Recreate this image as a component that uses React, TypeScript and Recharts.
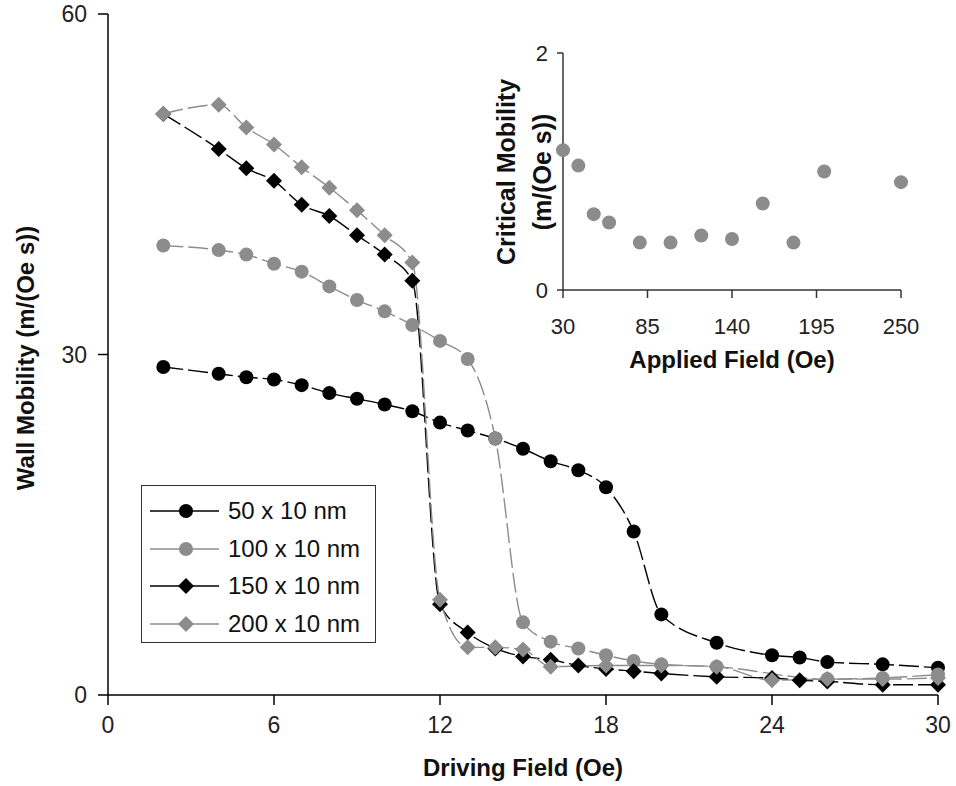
import React from 'react';
import { LineChart, Line, XAxis, YAxis, ScatterChart, Scatter } from 'recharts';

// main plot: driving field vs wall mobility
const drivingField = [2, 4, 5, 6, 7, 8, 9, 10, 11, 12, 13, 14, 15, 16, 17, 18, 19, 20, 22, 24, 25, 26, 28, 30];
const mob50 = [28.9, 28.3, 28.0, 27.8, 27.3, 26.6, 26.1, 25.6, 25.0, 24.0, 23.3, 22.6, 21.7, 20.6, 19.8, 18.3, 14.4, 7.1, 4.6, 3.5, 3.3, 2.9, 2.7, 2.4];
const mob100 = [39.6, 39.2, 38.8, 38.0, 37.3, 36.0, 34.8, 33.8, 32.6, 31.2, 29.6, 22.6, 6.4, 4.7, 4.1, 3.5, 3.0, 2.7, 2.5, null, null, 1.4, 1.5, 1.8];
const mob150 = [51.2, 48.1, 46.4, 45.3, 43.2, 42.2, 40.5, 38.8, 36.5, 8.0, 5.5, 4.1, 3.4, 3.1, 2.6, 2.3, 2.1, 1.9, 1.6, 1.5, 1.3, 1.2, 0.9, 0.9];
const mob200 = [51.2, 52.0, 50.0, 48.5, 46.5, 44.7, 42.7, 40.5, 38.1, 8.4, 4.2, 4.2, 4.0, 2.5, null, 2.6, null, 2.6, 2.5, 1.3, null, 1.4, 1.4, 1.5];
const xTicks = [0, 6, 12, 18, 24, 30];
const yTicks = [0, 30, 60];

// inset: applied field vs critical mobility
const appliedField = [30, 40, 50, 60, 80, 100, 120, 140, 160, 180, 200, 250];
const critMobility = [1.18, 1.05, 0.64, 0.57, 0.4, 0.4, 0.46, 0.43, 0.73, 0.4, 1.0, 0.91];
const insetXTicks = [30, 85, 140, 195, 250];
const insetYTicks = [0, 2];

const FONT = '"Liberation Sans", Arial, sans-serif';
const BLACK = '#000000';
const GRAY = '#8c8c8c';

const mainData = drivingField.map((x, i) => ({
    x,
    s50: mob50[i],
    s100: mob100[i],
    s150: mob150[i],
    s200: mob200[i],
}));

const insetData = appliedField.map((x, i) => ({ x, y: critMobility[i] }));

const series = [
    { key: 's50', name: '50 x 10 nm', color: BLACK, shape: 'circle' },
    { key: 's100', name: '100 x 10 nm', color: GRAY, shape: 'circle' },
    { key: 's150', name: '150 x 10 nm', color: BLACK, shape: 'diamond' },
    { key: 's200', name: '200 x 10 nm', color: GRAY, shape: 'diamond' },
];

const Marker = ({ cx, cy, color, shape }: any) => {
    if (shape === 'diamond') {
        return <polygon points={`${cx},${cy - 8} ${cx + 8},${cy} ${cx},${cy + 8} ${cx - 8},${cy}`} fill={color} />;
    }
    return <circle cx={cx} cy={cy} r={7} fill={color} />;
};

const makeDot = (color: string, shape: string) => (props: any) => {
    const { cx, cy, index, value } = props;
    if (cx == null || cy == null || value == null) return <g key={`e-${index}`} />;
    return <Marker key={`d-${index}`} cx={cx} cy={cy} color={color} shape={shape} />;
};

const Title = ({ x, y, rotate, children, size = 24 }: any) => (
    <div
        style={{
            position: 'absolute',
            left: x,
            top: y,
            transform: `translate(-50%, -50%)${rotate ? ' rotate(-90deg)' : ''}`,
            whiteSpace: 'nowrap',
            fontFamily: FONT,
            fontWeight: 'bold',
            fontSize: size,
            color: '#111',
            textAlign: 'center',
            lineHeight: 1.25,
        }}
    >
        {children}
    </div>
);

const LegendBox = () => (
    <div
        style={{
            position: 'absolute',
            left: 141,
            top: 485,
            width: 233,
            height: 156,
            border: '1.5px solid #333',
            background: '#fff',
            fontFamily: FONT,
        }}
    >
        {series.map((s, i) => (
            <div key={s.key} style={{ position: 'absolute', left: 0, top: 10 + i * 37.5, height: 30, display: 'flex', alignItems: 'center' }}>
                <svg width={84} height={30}>
                    <line x1={8} y1={15} x2={77} y2={15} stroke={s.color} strokeWidth={1.5} />
                    <Marker cx={44} cy={15} color={s.color} shape={s.shape} />
                </svg>
                <span style={{ fontSize: 24, color: '#111', marginLeft: 2 }}>{s.name}</span>
            </div>
        ))}
    </div>
);

const App = () => {
    return (
        <div style={{ position: 'absolute', left: 0, top: 0, width: 956, height: 786, background: '#fff' }}>
            <LineChart width={956} height={786} data={mainData} margin={{ top: 14, right: 18, bottom: 51, left: 48 }}>
                <XAxis
                    dataKey="x"
                    type="number"
                    domain={[0, 30]}
                    ticks={xTicks}
                    height={40}
                    tickSize={10}
                    tickMargin={12}
                    axisLine={{ stroke: BLACK, strokeWidth: 1.5 }}
                    tickLine={{ stroke: BLACK, strokeWidth: 1.5 }}
                    tick={{ fontSize: 23, fill: '#222', fontFamily: FONT }}
                />
                <XAxis xAxisId="top" orientation="top" type="number" domain={[0, 30]} height={0} tick={false} tickLine={false} axisLine={{ stroke: '#999' }} />
                <YAxis
                    type="number"
                    domain={[0, 60]}
                    ticks={yTicks}
                    width={60}
                    tickSize={10}
                    tickMargin={11}
                    axisLine={{ stroke: BLACK, strokeWidth: 1.5 }}
                    tickLine={{ stroke: BLACK, strokeWidth: 1.5 }}
                    tick={{ fontSize: 23, fill: '#222', fontFamily: FONT }}
                />
                <YAxis yAxisId="right" orientation="right" type="number" domain={[0, 60]} width={0} tick={false} tickLine={false} axisLine={{ stroke: '#999' }} />
                {series.map((s) => (
                    <Line
                        key={s.key}
                        dataKey={s.key}
                        name={s.name}
                        type="monotone"
                        stroke={s.color}
                        strokeWidth={1.4}
                        strokeDasharray="20 5"
                        connectNulls
                        dot={makeDot(s.color, s.shape)}
                        activeDot={false}
                        isAnimationActive={false}
                    />
                ))}
            </LineChart>

            <Title x={26} y={358} rotate>Wall Mobility (m/(Oe s))</Title>
            <Title x={523} y={768}>Driving Field (Oe)</Title>
            <LegendBox />

            <div style={{ position: 'absolute', left: 470, top: 30, width: 450, height: 350 }}>
                <ScatterChart width={450} height={350} margin={{ top: 23, right: 19, bottom: 50, left: 53 }}>
                    <XAxis
                        dataKey="x"
                        type="number"
                        domain={[30, 250]}
                        ticks={insetXTicks}
                        height={40}
                        tickSize={8}
                        tickMargin={20}
                        axisLine={{ stroke: '#333', strokeWidth: 1.5 }}
                        tickLine={{ stroke: '#333', strokeWidth: 1.5 }}
                        tick={{ fontSize: 22, fill: '#222', fontFamily: FONT }}
                    />
                    <XAxis xAxisId="top" orientation="top" type="number" domain={[30, 250]} height={0} tick={false} tickLine={false} axisLine={{ stroke: '#999' }} />
                    <YAxis
                        dataKey="y"
                        type="number"
                        domain={[0, 2]}
                        ticks={insetYTicks}
                        width={40}
                        tickSize={6}
                        tickMargin={9}
                        axisLine={{ stroke: '#333', strokeWidth: 1.5 }}
                        tickLine={{ stroke: '#333', strokeWidth: 1.5 }}
                        tick={{ fontSize: 22, fill: '#222', fontFamily: FONT }}
                    />
                    <YAxis yAxisId="right" orientation="right" type="number" domain={[0, 2]} width={0} tick={false} tickLine={false} axisLine={{ stroke: '#999' }} />
                    <Scatter
                        data={insetData}
                        fill={GRAY}
                        isAnimationActive={false}
                        shape={(p: any) => <circle cx={p.cx} cy={p.cy} r={7} fill={GRAY} />}
                    />
                </ScatterChart>
            </div>

            <Title x={507} y={172} rotate size={25}>Critical Mobility</Title>
            <Title x={543} y={172} rotate size={25}>(m/(Oe s))</Title>
            <Title x={732} y={360}>Applied Field (Oe)</Title>
        </div>
    );
};

export default App;
